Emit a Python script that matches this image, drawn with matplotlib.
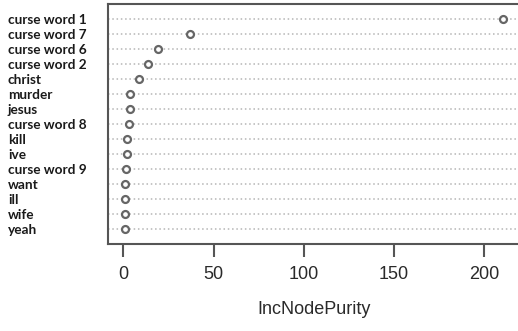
import matplotlib
matplotlib.use("Agg")
import matplotlib.pyplot as plt

words = ["curse word 1", "curse word 7", "curse word 6", "curse word 2", "christ",
         "murder", "jesus", "curse word 8", "kill", "ive", "curse word 9",
         "want", "ill", "wife", "yeah"]
purity = [210.5, 36.7, 19.3, 13.9, 8.5, 3.5, 3.5, 3.0, 1.8, 1.8, 1.2, 1.1, 1.1, 1.0, 1.0]
xticks = [0, 50, 100, 150, 200]

W, H = 518, 331
fig = plt.figure(figsize=(W / 100, H / 100), dpi=100)
ax = fig.add_axes([108 / W, 1 - 244 / H, 412.4 / W, (244 - 3.5) / H])

n = len(words)
ys = list(range(n, 0, -1))
for y in ys:
    ax.axhline(y, color="#b5b5b5", linestyle=(0, (1.0, 1.8)), linewidth=1.1, zorder=1)
ax.plot(purity, ys, linestyle="none", marker="o", markersize=5,
        markerfacecolor="white", markeredgecolor="#666666", markeredgewidth=1.6, zorder=3)

ax.set_xlim(-8.5, 220)
ax.set_ylim(0, n + 1)
ax.set_yticks(ys)
ax.set_yticklabels(words, fontfamily="Lato", fontweight="bold", fontsize=9.8, color="#1a1a1a")
ax.tick_params(axis="y", length=0, pad=72)
for lbl in ax.get_yticklabels():
    lbl.set_horizontalalignment("left")

ax.set_xticks(xticks)
ax.set_xticklabels([str(t) for t in xticks], fontfamily="Liberation Sans", fontsize=13, color="#2a2a2a")
ax.tick_params(axis="x", length=9, width=1.5, color="#555555", pad=7)
for s in ax.spines.values():
    s.set_color("#555555")
    s.set_linewidth(1.5)

ax.set_xlabel("IncNodePurity", fontfamily="Liberation Sans", fontsize=13, color="#2a2a2a", labelpad=13)

fig.savefig("out.png", dpi=100)
